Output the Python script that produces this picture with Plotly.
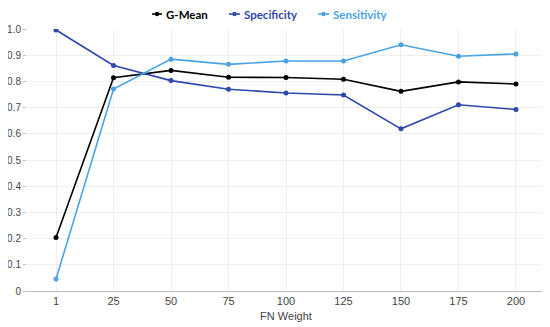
import plotly.graph_objects as go

fn_weight = ["1", "25", "50", "75", "100", "125", "150", "175", "200"]
g_mean = [0.204, 0.814, 0.842, 0.816, 0.815, 0.808, 0.762, 0.798, 0.790]
specificity = [0.996, 0.861, 0.803, 0.770, 0.756, 0.748, 0.619, 0.711, 0.693]
sensitivity = [0.046, 0.771, 0.885, 0.865, 0.878, 0.878, 0.940, 0.896, 0.905]
y_ticks = [0, 0.1, 0.2, 0.3, 0.4, 0.5, 0.6, 0.7, 0.8, 0.9, 1.0]
y_labels = ["0", "0.1", "0.2", "0.3", "0.4", "0.5", "0.6", "0.7", "0.8", "0.9", "1.0"]

series = [
    ("G-Mean", g_mean, "#000000"),
    ("Specificity", specificity, "#2E48AE"),
    ("Sensitivity", sensitivity, "#4BA3E3"),
]

# custom legend layout (paper coords): line start, line end, text start
legend_pos = [(0.2413, 0.2606, 0.2645), (0.390, 0.4112, 0.415), (0.5618, 0.583, 0.5869)]
legend_y = 1.057

fig = go.Figure()
shapes = []
annotations = []
for (name, vals, col), (x0, x1, xt) in zip(series, legend_pos):
    fig.add_trace(go.Scatter(
        x=fn_weight, y=vals, mode="lines+markers", name=name, showlegend=False,
        line=dict(color=col, width=1.6),
        marker=dict(color=col, size=5),
    ))
    shapes.append(dict(type="line", xref="paper", yref="paper", x0=x0, x1=x1,
                       y0=legend_y, y1=legend_y, line=dict(color=col, width=1.6)))
    xm = (x0 + x1) / 2
    shapes.append(dict(type="circle", xref="paper", yref="paper", xsizemode="pixel",
                       ysizemode="pixel", xanchor=xm, yanchor=legend_y,
                       x0=-2.2, x1=2.2, y0=-2.2, y1=2.2,
                       fillcolor=col, line=dict(color=col, width=0)))
    annotations.append(dict(xref="paper", yref="paper", x=xt, y=legend_y,
                            xanchor="left", yanchor="middle", showarrow=False,
                            text=f"<b>{name}</b>",
                            font=dict(family="Lato", size=11.5, color=col)))

fig.update_layout(
    width=542, height=319,
    margin=dict(l=19, r=5, t=21, b=36, autoexpand=False),
    paper_bgcolor="white", plot_bgcolor="white",
    font=dict(family="Liberation Sans, Arial", size=10, color="#444"),
    showlegend=False,
    shapes=shapes, annotations=annotations,
    xaxis=dict(type="category", showgrid=True, gridcolor="#eeeeee", automargin=False,
               showline=True, linecolor="#bbbbbb", ticks="",
               title=dict(text="FN Weight", font=dict(size=11, color="#444"), standoff=6),
               tickfont=dict(size=11, color="#444")),
    yaxis=dict(range=[0, 1.0], tickvals=y_ticks, ticktext=y_labels,
               showgrid=True, gridcolor="#eeeeee", zeroline=False, showline=False, automargin=False,
               ticks="outside", ticklen=3, tickcolor="#bbbbbb",
               tickfont=dict(size=10, color="#444")),
)

fig.write_html("out.html")
